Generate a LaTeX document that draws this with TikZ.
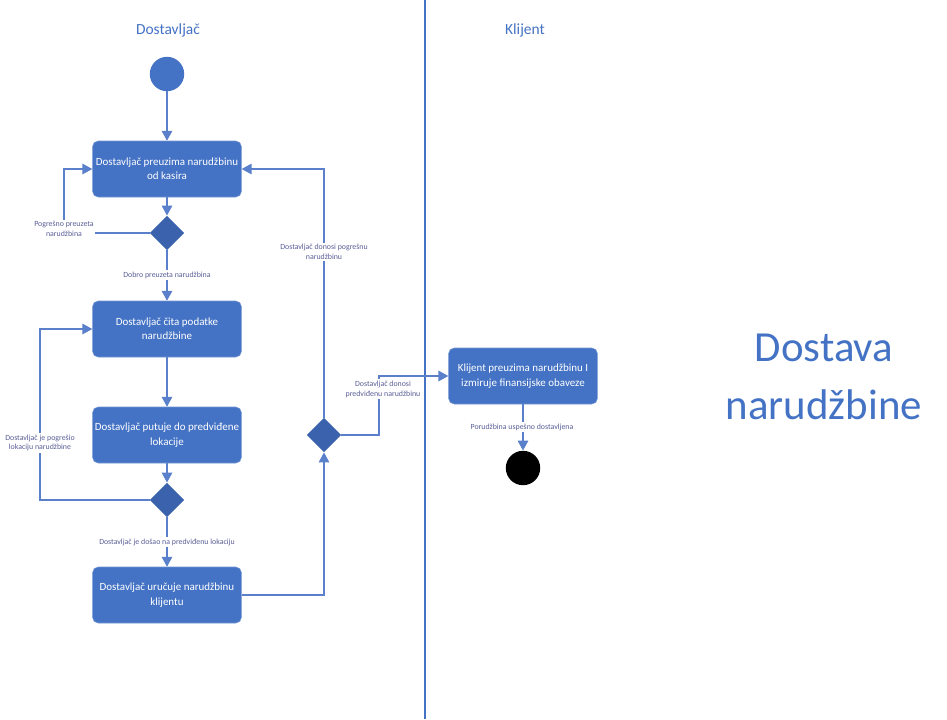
\documentclass[tikz,border=0pt]{standalone}
\usepackage{fontspec}
\setmainfont{Carlito}
\usetikzlibrary{arrows.meta,shapes.geometric}
\definecolor{boxblue}{HTML}{4472C4}
\definecolor{decblue}{HTML}{3B62AC}
\definecolor{flowblue}{HTML}{5A80CB}
\definecolor{labtext}{HTML}{5B5F97}
\tikzset{
	activity/.style={draw=boxblue!75!white, fill=boxblue, text=white, rounded corners=4pt,
		minimum width=3.72cm, minimum height=1.4cm, align=center,
		inner sep=1pt, font=\fontsize{7.8}{10.2}\selectfont},
	decision/.style={diamond, fill=decblue, minimum width=0.86cm, minimum height=0.86cm, inner sep=0pt},
	flow/.style={draw=flowblue, line width=0.8pt, -{Triangle[length=7pt,width=7.5pt]}},
	edgelabel/.style={fill=white, text=labtext, align=center, inner sep=1pt,
		font=\fontsize{5.6}{7}\selectfont},
	lanetitle/.style={text=boxblue, font=\fontsize{11}{13}\selectfont}
}
\begin{document}
\begin{tikzpicture}[x=0.025cm, y=-0.025cm]
		\useasboundingbox (0,0) rectangle (947,719);
		\draw[boxblue, line width=0.9pt] (425,0) coordinate(lane1) -- (425,719) coordinate(lane2);

		\node[lanetitle] (tdost) at (168,30) {Dostavljač};
		\node[lanetitle] (tklij) at (525,30) {Klijent};

		% aktivnosti
		\node[circle, fill=boxblue, minimum size=0.86cm, inner sep=0pt] (start) at (167,74) {};
		\node[activity] (take) at (167,169) {Dostavljač preuzima narudžbinu\\od kasira};
		\node[decision] (chk1) at (167,233) {};
		\node[activity] (read) at (167,329) {Dostavljač čita podatke\\narudžbine};
		\node[activity] (travel) at (167,435) {Dostavljač putuje do predviđene\\lokacije};
		\node[decision] (chk2) at (167,500) {};
		\node[activity] (hand) at (167,595) {Dostavljač uručuje narudžbinu\\klijentu};
		\node[decision] (chk3) at (324,435) {};
		\node[activity] (client) at (523,376) {Klijent preuzima narudžbinu I\\izmiruje finansijske obaveze};
		\node[circle, fill=black, minimum size=0.86cm, inner sep=0pt] (stop) at (523,468) {};

		\coordinate (bend1) at (64,233);
		\coordinate (bend2) at (40,500);
		\coordinate (bend3) at (379,435);

		% prelazi
		\draw[flow] (start) -- (take);
		\draw[flow] (take) -- (chk1);
		\draw[flow] (chk1.west) -- (bend1) |- (take.west);
		\draw[flow] (chk1) -- (read);
		\draw[flow] (read) -- (travel);
		\draw[flow] (travel) -- (chk2);
		\draw[flow] (chk2.west) -- (bend2) |- (read.west);
		\draw[flow] (chk2) -- (hand);
		\draw[flow] (hand.east) -| (chk3.south);
		\draw[flow] (chk3.north) |- (take.east);
		\draw[flow] (chk3.east) -- (bend3) |- (client.west);
		\draw[flow] (client) -- (stop);

		\node[edgelabel] (lwrong) at (64,229) {Pogrešno preuzeta\\narudžbina};
		\node[edgelabel] (lgood) at (167,275) {Dobro preuzeta narudžbina};
		\node[edgelabel] (lmiss) at (40,443) {Dostavljač je pogrešio\\lokaciju narudžbine};
		\node[edgelabel] (larrive) at (167,542) {Dostavljač je došao na predviđenu lokaciju};
		\node[edgelabel] (lback) at (324,252) {Dostavljač donosi pogrešnu\\narudžbinu};
		\node[edgelabel] (lright) at (383,389) {Dostavljač donosi\\predviđenu narudžbinu};
		\node[edgelabel] (ldone) at (522,427) {Porudžbina uspešno dostavljena};

		\node[text=boxblue, align=center, font=\fontsize{30.5}{41}\selectfont] (title) at (824,377) {Dostava\\narudžbine};
\end{tikzpicture}
\end{document}
